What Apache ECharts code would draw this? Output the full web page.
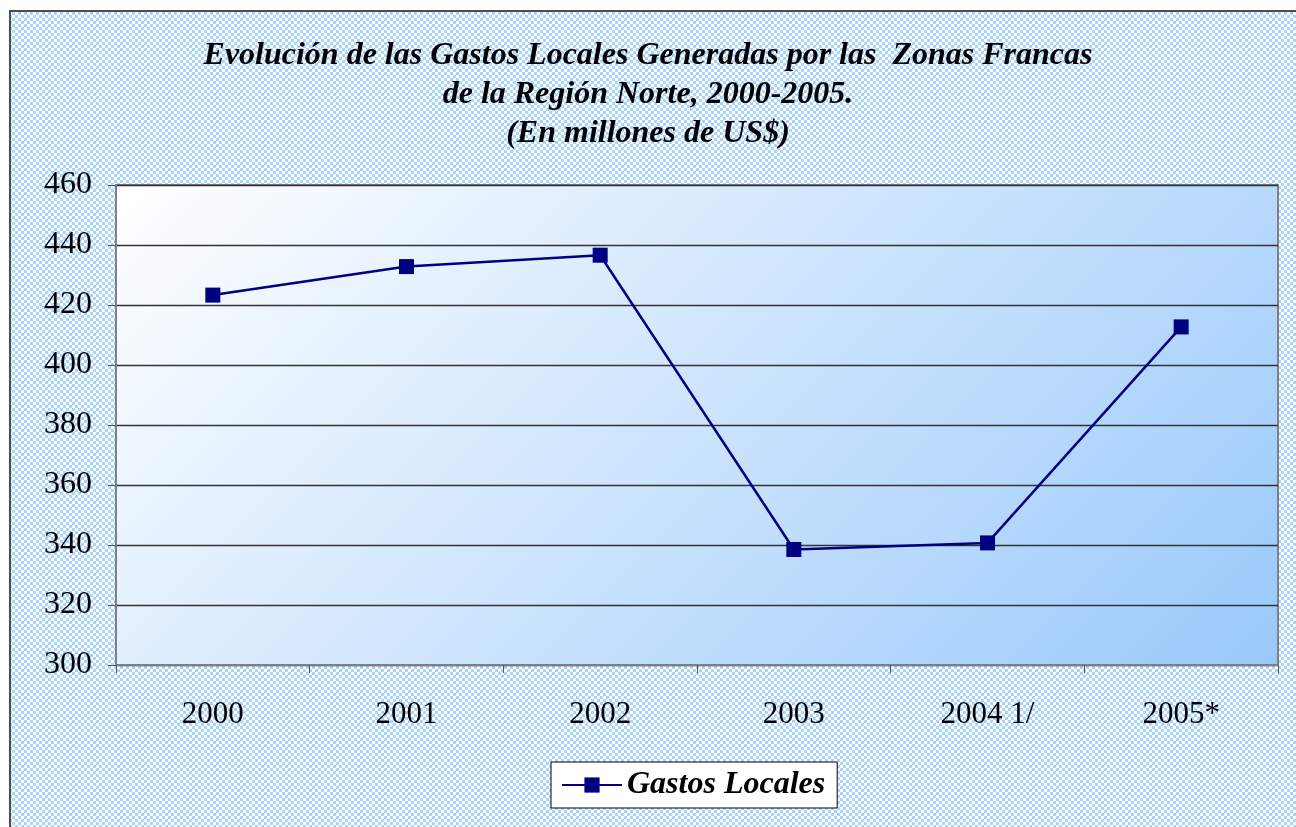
<!DOCTYPE html>
<html>
<head>
<meta charset="utf-8">
<script src="https://cdn.jsdelivr.net/npm/echarts@6/dist/echarts.min.js"></script>
<style>
  html, body { margin: 0; padding: 0; background: #fff; }
  #chart { width: 1296px; height: 827px; }
</style>
</head>
<body>
<div id="chart"></div>
<script>
const years = ['2000', '2001', '2002', '2003', '2004 1/', '2005*'];
const gastosLocales = [423.3, 432.8, 436.6, 338.5, 340.7, 412.7];
const yMin = 300;
const yMax = 460;
const yStep = 20;

// checkered light blue fill used for the chart area background
const makePattern = () => {
  const c = document.createElement('canvas');
  c.width = 6;
  c.height = 6;
  const ctx = c.getContext('2d');
  ctx.fillStyle = '#ffffff';
  ctx.fillRect(0, 0, 6, 6);
  ctx.fillStyle = '#a9d4ff';
  ctx.fillRect(0, 0, 3, 3);
  ctx.fillRect(3, 3, 3, 3);
  return c;
};

const serif = 'Liberation Serif, Times New Roman, serif';
const chart = echarts.init(document.getElementById('chart'));

// 45 degree gradient in pixel space over the plot area
const plotGradient = new echarts.graphic.LinearGradient(116, 185, 937, 1006, [
  { offset: 0, color: '#ffffff' },
  { offset: 1, color: '#99c9fb' }
], true);

chart.setOption({
  backgroundColor: '#ffffff',
  animation: false,
  graphic: [
    {
      type: 'rect',
      z: -10,
      silent: true,
      shape: { x: 10, y: 11, width: 1300, height: 830 },
      style: {
        fill: { image: makePattern(), repeat: 'repeat' },
        stroke: '#4d4d4d',
        lineWidth: 2
      }
    }
  ],
  title: {
    left: 'center',
    top: 31,
    text: 'Evolución de las Gastos Locales Generadas por las  Zonas Francas\nde la Región Norte, 2000-2005.\n(En millones de US$)',
    textStyle: {
      fontFamily: serif,
      fontStyle: 'italic',
      fontWeight: 'bold',
      fontSize: 32,
      lineHeight: 39,
      color: '#000'
    }
  },
  grid: {
    left: 116,
    right: 18,
    top: 185,
    bottom: 162,
    show: true,
    borderColor: '#808080',
    borderWidth: 2,
    backgroundColor: plotGradient
  },
  legend: {
    left: 551,
    top: 762,
    padding: [7, 12, 7, 10],
    itemWidth: 60,
    itemHeight: 19,
    itemGap: 6,
    backgroundColor: '#ffffff',
    borderColor: '#000',
    borderWidth: 1,
    textStyle: {
      fontFamily: serif,
      fontStyle: 'italic',
      fontWeight: 'bold',
      fontSize: 32,
      color: '#000'
    },
    data: ['Gastos Locales']
  },
  xAxis: {
    type: 'category',
    data: years,
    boundaryGap: true,
    axisLine: { lineStyle: { color: '#808080', width: 2 } },
    axisTick: { show: true, length: 8, lineStyle: { color: '#555' } },
    axisLabel: {
      margin: 34,
      fontFamily: serif,
      fontSize: 31,
      color: '#000'
    }
  },
  yAxis: {
    type: 'value',
    min: yMin,
    max: yMax,
    interval: yStep,
    axisLine: { show: true, lineStyle: { color: '#808080', width: 2 } },
    axisTick: { show: true, length: 8, lineStyle: { color: '#555' } },
    axisLabel: {
      margin: 24,
      fontFamily: serif,
      fontSize: 32,
      color: '#000'
    },
    splitLine: { lineStyle: { color: '#333', width: 1.3 } }
  },
  series: [
    {
      name: 'Gastos Locales',
      type: 'line',
      data: gastosLocales,
      symbol: 'rect',
      symbolSize: 15,
      lineStyle: { color: '#000080', width: 2.5 },
      itemStyle: { color: '#000080' }
    }
  ]
});
</script>
</body>
</html>
